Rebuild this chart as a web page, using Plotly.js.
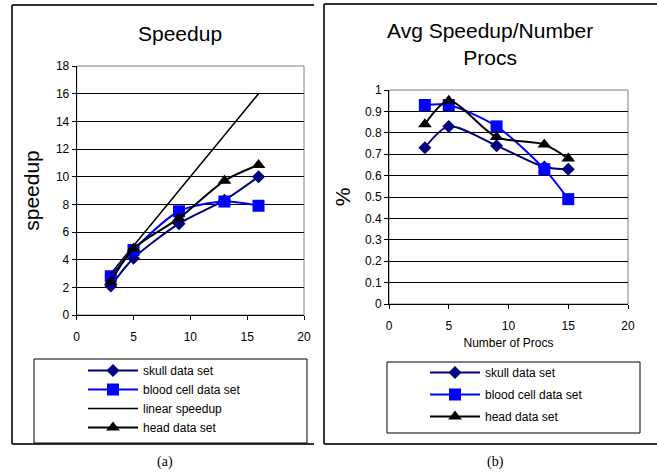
<!DOCTYPE html>
<html>
<head>
<meta charset="utf-8">
<script src="https://cdn.plot.ly/plotly-3.0.1.min.js"></script>
<style>
html,body{margin:0;padding:0;background:#fff;}
#chart{width:657px;height:472px;}
</style>
</head>
<body>
<div id="chart"></div>
<script>
// ---- data ----
const procs = [3, 5, 9, 13, 16];
const procsB = [3, 5, 9, 13, 15];
const skullSpeedup = [2.1, 4.1, 6.6, 8.3, 10.0];
const bloodSpeedup = [2.8, 4.7, 7.5, 8.2, 7.9];
const linearSpeedup = [3, 5, 9, 13, 16];
const headSpeedup = [2.4, 4.8, 7.0, 9.7, 10.85];
const skullAvg = [0.73, 0.83, 0.74, 0.64, 0.63];
const bloodAvg = [0.93, 0.93, 0.83, 0.63, 0.49];
const headAvg = [0.84, 0.95, 0.78, 0.745, 0.68];
const names = ['skull data set', 'blood cell data set', 'linear speedup', 'head data set'];
const xTicks = [0, 5, 10, 15, 20];

const W = 657, H = 472;
const px = v => v / W;
const py = v => 1 - v / H;
const FONT = 'Liberation Sans, Arial, sans-serif';
const NAVY = '#000080', BLUE = '#0000FF', BLACK = '#000000';

function tr(x, y, name, color, symbol, size, xa, ya, legend, show, width) {
  const t = {
    x: x, y: y, name: name, xaxis: xa, yaxis: ya, legend: legend,
    showlegend: show, legendgroup: legend + name,
    type: 'scatter', mode: symbol ? 'lines+markers' : 'lines',
    line: {color: color, width: width || 2, shape: 'spline', smoothing: 0.8},
    hoverinfo: 'x+y'
  };
  if (symbol) t.marker = {symbol: symbol, size: size, color: color, line: {width: 0}};
  return t;
}

const data = [
  tr(procs, skullSpeedup, names[0], NAVY, 'diamond', 10, 'x', 'y', 'legend', true),
  tr(procs, bloodSpeedup, names[1], BLUE, 'square', 12, 'x', 'y', 'legend', true),
  tr(procs, linearSpeedup, names[2], BLACK, null, 0, 'x', 'y', 'legend', true, 1.5),
  tr(procs, headSpeedup, names[3], BLACK, 'triangle-up', 12, 'x', 'y', 'legend', true),
  tr(procsB, skullAvg, names[0], NAVY, 'diamond', 10, 'x2', 'y2', 'legend2', true),
  tr(procsB, bloodAvg, names[1], BLUE, 'square', 12, 'x2', 'y2', 'legend2', true),
  tr(procsB, headAvg, names[3], BLACK, 'triangle-up', 12, 'x2', 'y2', 'legend2', true)
];

const axisBase = {
  showline: true, linecolor: '#000', linewidth: 1, zeroline: false,
  ticks: 'outside', ticklen: 4, tickcolor: '#000', tickwidth: 1,
  tickfont: {family: FONT, size: 12, color: '#000'}, fixedrange: true
};

function line(x0, y0, x1, y1, color, width) {
  return {type: 'line', xref: 'paper', yref: 'paper', x0: px(x0), y0: py(y0), x1: px(x1), y1: py(y1),
          line: {color: color, width: width}};
}
function rect(x0, y0, x1, y1, color, width) {
  return {type: 'rect', xref: 'paper', yref: 'paper', x0: px(x0), y0: py(y0), x1: px(x1), y1: py(y1),
          line: {color: color, width: width}, fillcolor: 'rgba(0,0,0,0)'};
}
function ann(text, x, y, font) {
  return {text: text, xref: 'paper', yref: 'paper', x: px(x), y: py(y), xanchor: 'center', yanchor: 'middle',
          showarrow: false, font: font};
}

const layout = {
  width: W, height: H,
  margin: {l: 0, r: 0, t: 0, b: 0},
  paper_bgcolor: '#fff', plot_bgcolor: '#fff',
  font: {family: FONT, color: '#000'},
  xaxis: Object.assign({}, axisBase, {domain: [px(76.7), px(304)], range: [0, 20], tickvals: xTicks, showgrid: false, anchor: 'y', ticklabelstandoff: 7}),
  yaxis: Object.assign({}, axisBase, {domain: [py(315), py(66)], range: [0, 18], dtick: 2, showgrid: true, gridcolor: '#000', gridwidth: 1, anchor: 'x',
    title: {text: 'speedup', font: {family: FONT, size: 21}, standoff: 10}}),
  xaxis2: Object.assign({}, axisBase, {domain: [px(389), px(628)], range: [0, 20], tickvals: xTicks, showgrid: false, anchor: 'y2', ticklabelstandoff: 7,
    title: {text: 'Number of Procs', font: {family: FONT, size: 12}, standoff: 6}}),
  yaxis2: Object.assign({}, axisBase, {domain: [py(304), py(90)], range: [0, 1], dtick: 0.1, tickformat: '.1~f', showgrid: true, gridcolor: '#000', gridwidth: 1, anchor: 'x2',
    title: {text: '%', font: {family: FONT, size: 21}, standoff: 8}}),
  legend: {x: px(83), y: py(356), xanchor: 'left', yanchor: 'top', bgcolor: 'rgba(0,0,0,0)', borderwidth: 0,
           font: {family: FONT, size: 12}, itemwidth: 50, traceorder: 'normal', tracegroupgap: 0},
  legend2: {x: px(425), y: py(358), xanchor: 'left', yanchor: 'top', bgcolor: 'rgba(0,0,0,0)', borderwidth: 0,
           font: {family: FONT, size: 12}, itemwidth: 50, traceorder: 'grouped', tracegroupgap: 3},
  annotations: [
    ann('Speedup', 180, 33, {family: FONT, size: 21}),
    ann('Avg Speedup/Number<br>Procs', 490, 44, {family: FONT, size: 21}),
    ann('(a)', 165, 462, {family: 'Liberation Serif, Times New Roman, serif', size: 14}),
    ann('(b)', 495, 462, {family: 'Liberation Serif, Times New Roman, serif', size: 14})
  ],
  shapes: [
    // frames
    line(12, 5, 314, 5, '#333', 2), line(12, 5, 12, 444, '#333', 2), line(12, 444, 314, 444, '#333', 2),
    line(324, 4, 657, 4, '#333', 2), line(324, 4, 324, 444, '#333', 2), line(324, 444, 657, 444, '#333', 2),
    // legend boxes
    rect(34, 359, 307, 443, '#000', 1),
    rect(387, 362, 640, 433, '#000', 1),
    // plot area borders
    {type: 'rect', xref: 'x domain', yref: 'y domain', x0: 0, x1: 1, y0: 0, y1: 1, line: {color: '#808080', width: 1}, layer: 'below'},
    {type: 'rect', xref: 'x2 domain', yref: 'y2 domain', x0: 0, x1: 1, y0: 0, y1: 1, line: {color: '#808080', width: 1}, layer: 'below'}
  ]
};

Plotly.newPlot('chart', data, layout, {displayModeBar: false, staticPlot: true});
</script>
</body>
</html>
